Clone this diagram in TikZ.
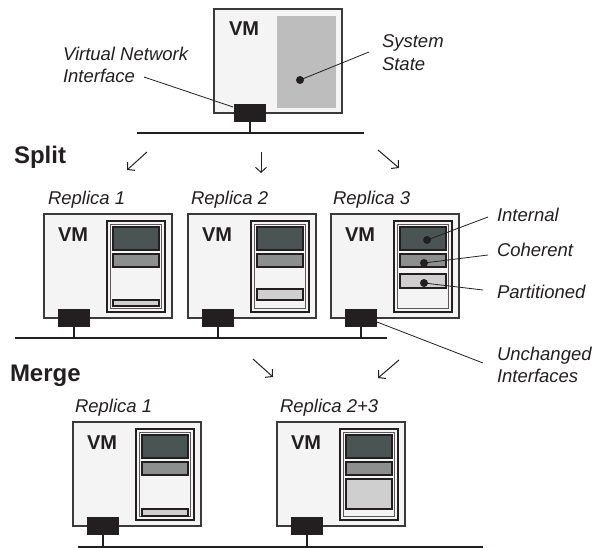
\documentclass[tikz,border=0pt]{standalone}
\usepackage{fontspec}
\setmainfont{Liberation Sans}
\usetikzlibrary{arrows.meta,fit}

\definecolor{ink}{HTML}{231F20}
\definecolor{vmbg}{HTML}{F3F4F3}
\definecolor{vmedge}{HTML}{3A3A3A}
\definecolor{stategray}{HTML}{BDBDBD}
\definecolor{internalfill}{HTML}{4A5453}
\definecolor{coherentfill}{HTML}{8D8E8E}
\definecolor{partfill}{HTML}{CFCFCF}

\newcommand\lblfont{\fontsize{18.5}{22}\selectfont\itshape}
\newcommand\vmfont{\fontsize{20}{24}\selectfont\bfseries}
\newcommand\headfont{\fontsize{24}{28}\selectfont\bfseries}

\tikzset{
  every node/.style={inner sep=0pt, outer sep=0pt, text=ink},
  vmframe/.style={draw=vmedge, line width=1.2pt, fill=vmbg},
  statepanel/.style={draw=ink, line width=2pt, fill=vmbg},
  paneledge/.style={draw=ink!75, line width=0.6pt},
  block/.style={draw=ink, line width=1.9pt},
  nic/.style={fill=ink},
  vmlabel/.style={anchor=base west, font=\vmfont},
  heading/.style={anchor=base west, font=\headfont},
  caption/.style={anchor=base west, font=\lblfont},
  net/.style={draw=ink, line width=1.2pt},
  leader/.style={draw=ink, line width=0.8pt},
  dot/.style={circle, fill=ink, minimum size=8pt},
  flow/.style={draw=ink, line width=1pt, -{Straight Barb[length=5pt,width=11pt]}},
}

% One replica VM: #1 name, #2 left, #3 top, #4/#5 top/bottom of the partitioned block
\newcommand\replica[5]{%
  \node[vmframe, fit={(#2,#3) ({#2+128},{#3+104})}] (#1-box) {};
  \node[vmlabel] (#1-vm) at ({#2+14},{#3+27}) {VM};
  \node[statepanel, fit={({#2+63},{#3+7}) ({#2+121},{#3+98})}] (#1-panel) {};
  \node[paneledge, fit={({#2+66.5},{#3+10.5}) ({#2+117.5},{#3+94.5})}] (#1-inner) {};
  \node[block, fill=internalfill, fit={({#2+69},{#3+13}) ({#2+115},{#3+36})}] (#1-int) {};
  \node[block, fill=coherentfill, fit={({#2+69},{#3+40}) ({#2+115},{#3+53})}] (#1-coh) {};
  \node[block, fill=partfill, fit={({#2+69},{#3+#4}) ({#2+115},{#3+#5})}] (#1-part) {};
  \node[nic, fit={({#2+14},{#3+95}) ({#2+46},{#3+113})}] (#1-nic) {};
}

\begin{document}
\begin{tikzpicture}[x=1pt, y=-1pt]
\useasboundingbox (0,0) rectangle (597,548);

% ---------- original VM ----------
\node[vmframe, fit={(214,9) (342,113)}] (top-box) {};
\node[fill=stategray, fit={(277,16) (336,108)}] (top-state) {};
\node[vmlabel] (top-vm) at (229,36) {VM};
\node[nic, fit={(234,104) (266,122)}] (top-nic) {};
\coordinate (top-net-l) at (137,133);
\coordinate (top-net-r) at (364,133);
\draw[net] (top-net-l) -- (top-net-r);
\draw[net] (top-nic.south) -- (top-nic.south |- top-net-l);

\node[dot] (top-dot) at (300,80) {};
\node[caption] (sys1) at (382,48) {System};
\node[caption] (sys2) at (382,71) {State};
\coordinate (sys-end) at (369,52);
\draw[leader] (top-dot.center) -- (sys-end);

\node[caption] (vni1) at (63,61) {Virtual Network};
\node[caption] (vni2) at (63,83) {Interface};
\coordinate (vni-end) at (144,77);
\draw[leader] (vni-end) -- ([xshift=-1pt,yshift=-3pt]top-nic.north west);

% ---------- split ----------
\node[heading] (split) at (14,164) {Split};
\coordinate (sa1) at (147,152); \coordinate (sb1) at (127,170);
\coordinate (sa2) at (261,152); \coordinate (sb2) at (261,173);
\coordinate (sa3) at (378,150); \coordinate (sb3) at (399,168);
\draw[flow] (sa1) -- (sb1);
\draw[flow] (sa2) -- (sb2);
\draw[flow] (sa3) -- (sb3);

\node[caption] (rep1) at (48,205) {Replica 1};
\node[caption] (rep2) at (191,205) {Replica 2};
\node[caption] (rep3) at (333,205) {Replica 3};

\replica{ra}{44}{214}{86}{92}
\replica{rb}{188}{214}{75}{86}
\replica{rc}{331}{214}{60}{74}

\coordinate (split-l) at (15,338);
\coordinate (split-r) at (387,338);
\draw[net] (split-l) -- (split-r);
\foreach \r in {ra,rb,rc}
  \draw[net] (\r-nic.south) -- (\r-nic.south |- split-l);

% state classes, pointed out on the third replica
\node[dot] (rc-idot) at (427,240) {};
\node[dot] (rc-cdot) at (424,263) {};
\node[dot] (rc-pdot) at (424,283) {};
\node[caption] (lab-int) at (497,222) {Internal};
\node[caption] (lab-coh) at (497,257) {Coherent};
\node[caption] (lab-part) at (497,298) {Partitioned};
\node[caption] (lab-unch1) at (497,360) {Unchanged};
\node[caption] (lab-unch2) at (497,382) {Interfaces};
\coordinate (int-end) at (488,217);
\coordinate (coh-end) at (488,255);
\coordinate (part-end) at (483,290);
\coordinate (unch-end) at (483,363);
\draw[leader] (rc-idot.center) -- (int-end);
\draw[leader] (rc-cdot.center) -- (coh-end);
\draw[leader] (rc-pdot.center) -- (part-end);
\draw[leader] ([yshift=-4pt]rc-nic.east) -- (unch-end);

% ---------- merge ----------
\node[heading] (merge) at (10,381) {Merge};
\coordinate (ma1) at (253,359); \coordinate (mb1) at (273,377);
\coordinate (ma2) at (399,360); \coordinate (mb2) at (378,378);
\draw[flow] (ma1) -- (mb1);
\draw[flow] (ma2) -- (mb2);

\node[caption] (mrep1) at (75,412) {Replica 1};
\node[caption] (mrep23) at (280,412) {Replica 2+3};

\replica{ma}{73}{422}{87}{94}
\replica{mb}{277}{422}{57}{87}

\coordinate (merge-l) at (78,547);
\coordinate (merge-r) at (483,547);
\draw[net] (merge-l) -- (merge-r);
\foreach \r in {ma,mb}
  \draw[net] (\r-nic.south) -- (\r-nic.south |- merge-l);
\end{tikzpicture}
\end{document}
